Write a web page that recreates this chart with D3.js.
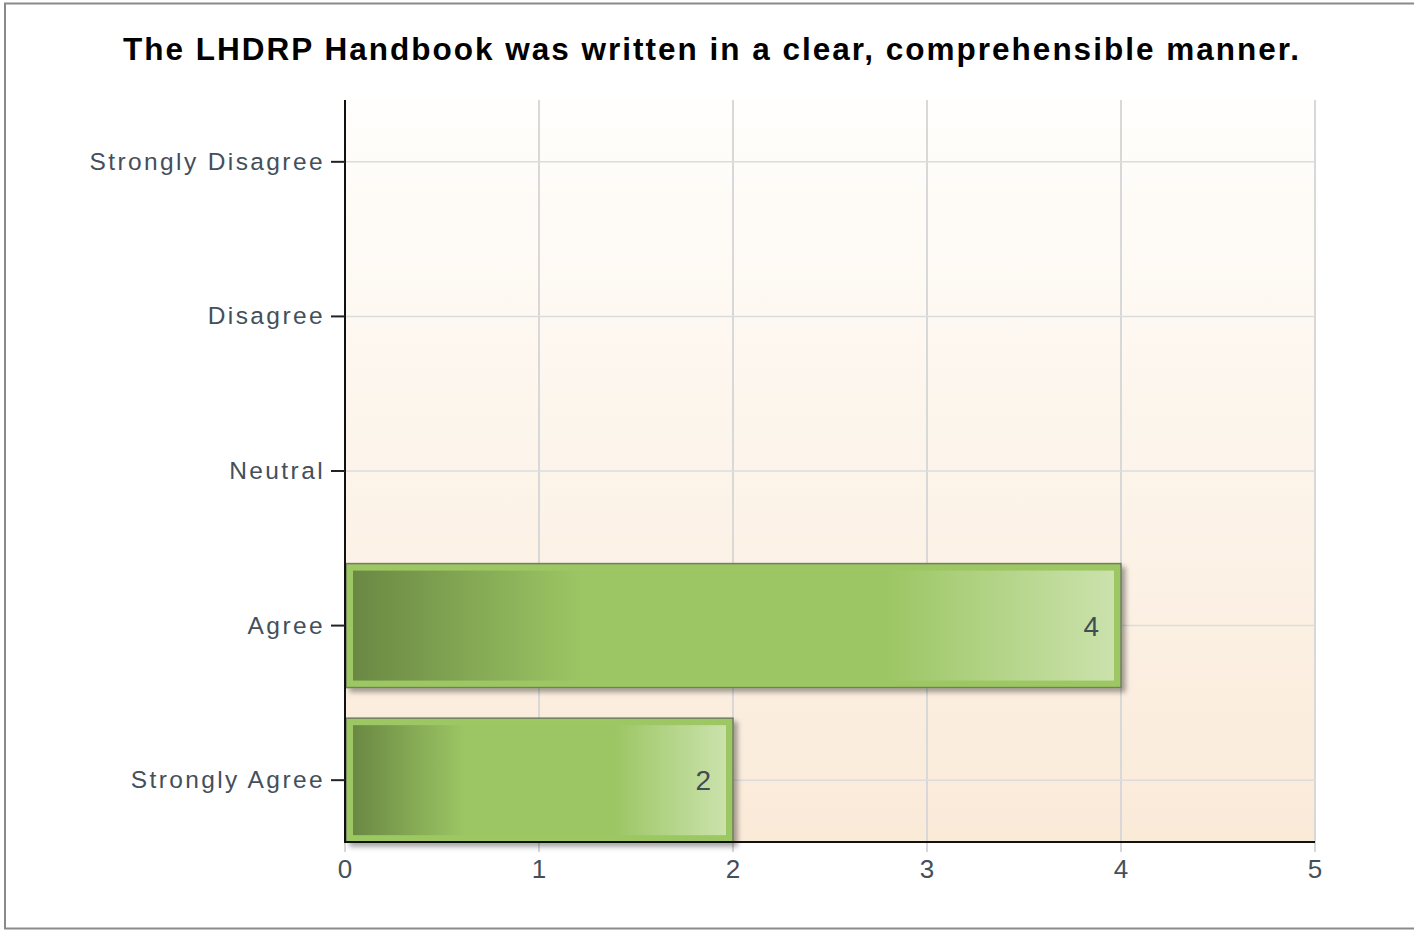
<!DOCTYPE html>
<html>
<head>
<meta charset="utf-8">
<script src="https://cdn.jsdelivr.net/npm/d3@7"></script>
<style>
  body { margin: 0; background: #fff; }
  svg { display: block; font-family: "Liberation Sans", Arial, sans-serif; }
</style>
</head>
<body>
<svg id="chart" width="1414" height="930"></svg>
<script>
var title = "The LHDRP Handbook was written in a clear, comprehensible manner.";
var categories = ["Strongly Disagree", "Disagree", "Neutral", "Agree", "Strongly Agree"];
var counts = [0, 0, 0, 4, 2];
var xTicks = [0, 1, 2, 3, 4, 5];

(function () {
  var svg = d3.select('#chart'),
      left = 345, right = 1315, top = 100, bottom = 842;

  var x = d3.scaleLinear().domain([0, 5]).range([left, right]);
  var y = d3.scalePoint().domain(categories).range([top, bottom]).padding(0.4);
  var barH = 124;

  var defs = svg.append('defs');
  var bg = defs.append('linearGradient').attr('id', 'bg')
    .attr('x1', 0).attr('y1', 0).attr('x2', 0).attr('y2', 1);
  bg.append('stop').attr('offset', '0%').attr('stop-color', '#fffefc');
  bg.append('stop').attr('offset', '100%').attr('stop-color', '#faead8');

  var bar = defs.append('linearGradient').attr('id', 'bar')
    .attr('x1', 0).attr('y1', 0).attr('x2', 1).attr('y2', 0);
  bar.append('stop').attr('offset', '0%').attr('stop-color', '#6a8843');
  bar.append('stop').attr('offset', '30%').attr('stop-color', '#9cc664');
  bar.append('stop').attr('offset', '70%').attr('stop-color', '#9cc664');
  bar.append('stop').attr('offset', '100%').attr('stop-color', '#cbe2ac');

  var shadow = defs.append('filter').attr('id', 'shadow')
    .attr('x', '-5%').attr('y', '-10%').attr('width', '115%').attr('height', '130%');
  shadow.append('feDropShadow').attr('dx', 4).attr('dy', 4).attr('stdDeviation', 2.5)
    .attr('flood-color', '#000').attr('flood-opacity', 0.35);

  // frame
  svg.append('rect').attr('x', 5).attr('y', 3.5).attr('width', 1420).attr('height', 925)
    .attr('fill', 'none').attr('stroke', '#8a8a8a').attr('stroke-width', 2);

  // title
  svg.append('text').attr('x', 712).attr('y', 60).attr('text-anchor', 'middle')
    .attr('font-size', 31.5).attr('font-weight', 'bold').attr('fill', '#000')
    .attr('letter-spacing', 2.0)
    .text(title);

  // plot background
  svg.append('rect').attr('x', left).attr('y', top)
    .attr('width', right - left).attr('height', bottom - top).attr('fill', 'url(#bg)');

  // grid
  svg.append('g').selectAll('line').data(xTicks).join('line')
    .attr('x1', function (d) { return x(d); }).attr('x2', function (d) { return x(d); })
    .attr('y1', top).attr('y2', bottom + 10)
    .attr('stroke', '#d8d8d8').attr('stroke-width', 2);
  svg.append('g').selectAll('line').data(categories).join('line')
    .attr('x1', left).attr('x2', right)
    .attr('y1', function (d) { return y(d); }).attr('y2', function (d) { return y(d); })
    .attr('stroke', '#dcdcdc').attr('stroke-width', 1.5);

  // bars
  var data = categories.map(function (c, i) { return { cat: c, v: counts[i] }; })
    .filter(function (d) { return d.v > 0; });
  var g = svg.append('g').selectAll('g').data(data).join('g');
  g.append('rect')
    .attr('x', x(0) + 1).attr('y', function (d) { return y(d.cat) - barH / 2; })
    .attr('width', function (d) { return x(d.v) - x(0) - 1; }).attr('height', barH)
    .attr('fill', '#9dc763').attr('stroke', '#6f7f5f').attr('stroke-width', 1.5)
    .attr('filter', 'url(#shadow)');
  g.append('rect')
    .attr('x', x(0) + 8).attr('y', function (d) { return y(d.cat) - barH / 2 + 7; })
    .attr('width', function (d) { return x(d.v) - x(0) - 15; }).attr('height', barH - 14)
    .attr('fill', 'url(#bar)');
  g.append('text')
    .attr('x', function (d) { return x(d.v) - 22; })
    .attr('y', function (d) { return y(d.cat) + 10; })
    .attr('text-anchor', 'end').attr('font-size', 28).attr('fill', '#3e4e52')
    .text(function (d) { return d.v; });

  // y axis
  svg.append('line').attr('x1', left).attr('x2', left).attr('y1', top).attr('y2', bottom + 1)
    .attr('stroke', '#111').attr('stroke-width', 2);
  var yl = svg.append('g').selectAll('g').data(categories).join('g');
  yl.append('line').attr('x1', left - 14).attr('x2', left)
    .attr('y1', function (d) { return y(d); }).attr('y2', function (d) { return y(d); })
    .attr('stroke', '#222').attr('stroke-width', 2);
  yl.append('text').attr('x', left - 20).attr('y', function (d) { return y(d) + 8; })
    .attr('text-anchor', 'end').attr('font-size', 24.5).attr('fill', '#444f5a')
    .attr('letter-spacing', 2.4)
    .text(function (d) { return d; });

  // x axis
  svg.append('line').attr('x1', left).attr('x2', right).attr('y1', bottom).attr('y2', bottom)
    .attr('stroke', '#111').attr('stroke-width', 2);
  svg.append('g').selectAll('text').data(xTicks).join('text')
    .attr('x', function (d) { return x(d); }).attr('y', 878)
    .attr('text-anchor', 'middle').attr('font-size', 26).attr('fill', '#444f5a')
    .text(function (d) { return d; });
})();
</script>
</body>
</html>
